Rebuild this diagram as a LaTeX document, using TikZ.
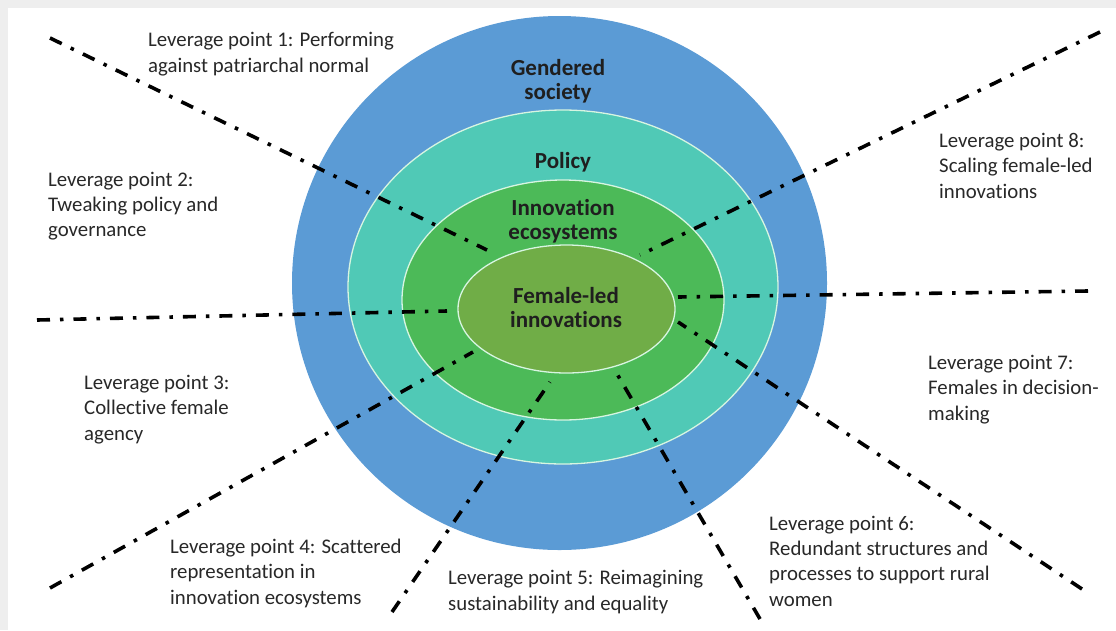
\documentclass[tikz,border=0pt]{standalone}
\usepackage{fontspec}
\setmainfont{Carlito}[Ligatures=NoCommon]
\usetikzlibrary{shapes.geometric}
\definecolor{framegray}{RGB}{238,238,238}
\definecolor{societyblue}{RGB}{91,155,213}
\definecolor{policyteal}{RGB}{80,201,182}
\definecolor{ecogreen}{RGB}{76,186,88}
\definecolor{femgreen}{RGB}{112,173,71}
\definecolor{ringline}{RGB}{215,245,225}
\definecolor{labeltext}{RGB}{40,40,40}
\begin{document}
\begin{tikzpicture}[x=1pt,y=-1pt,
  layer/.style={ellipse,inner sep=0pt,outer sep=0pt},
  ringedge/.style={draw=ringline,line width=1.3pt},
  % multi-line nodes: the base anchor sits on the last line's baseline
  title/.style={anchor=base,align=center,inner sep=0pt,text=black!88,
    font=\fontsize{23}{24.5}\selectfont\bfseries},
  lever/.style={anchor=base west,align=left,inner sep=0pt,text=labeltext,
    font=\fontsize{20.8}{25.3}\selectfont},
  leverline/.style={draw=black,line width=3.6pt,
    dash pattern=on 13pt off 10pt on 3.5pt off 10pt}]
\useasboundingbox (0,0) rectangle (1116,630);
% page frame
\fill[framegray] (0,0) rectangle (1116,630);
\fill[white] (8,8) rectangle (1116,630);

% nested layers
\node[layer,fill=societyblue,minimum width=535pt,minimum height=534pt] (society) at (559.5,283) {};
\node[layer,ringedge,fill=policyteal,minimum width=430pt,minimum height=354pt] (policy) at (563,287) {};
\node[layer,ringedge,fill=ecogreen,minimum width=322pt,minimum height=240pt] (eco) at (563,300) {};
\node[layer,ringedge,fill=femgreen,minimum width=217pt,minimum height=128pt] (fem) at (566.5,309) {};

% leverage line end points
\coordinate (a1) at (50,38);    \coordinate (b1) at (487,250);
\coordinate (a2) at (37,320);   \coordinate (b2) at (447,311);
\coordinate (a3) at (50,588);   \coordinate (b3) at (473,352);
\coordinate (a4) at (392,612);  \coordinate (b4) at (550,382);
\coordinate (a5) at (760,619);  \coordinate (b5) at (613,367);
\coordinate (a6) at (1082,589); \coordinate (b6) at (678,322);
\coordinate (a7) at (1088,291); \coordinate (b7) at (678,297);
\coordinate (a8) at (1100,32);  \coordinate (b8) at (640,255);

\foreach \i in {1,...,8} {\draw[leverline] (a\i) -- (b\i);}

% layer titles
\node[title] (tsociety) at (558,99.5) {Gendered\\society};
\node[title] (tpolicy) at (563,168) {Policy};
\node[title] (teco) at (563,239.5) {Innovation\\ecosystems};
\node[title] (tfem) at (566,327.5) {Female-led\\innovations};

% leverage point labels
\node[lever] (lp1) at (148,72) {Leverage point 1: Performing\\against patriarchal normal};
\node[lever] (lp2) at (48,236.6) {Leverage point 2:\\Tweaking policy and\\governance};
\node[lever] (lp3) at (84,440) {Leverage point 3:\\Collective female\\agency};
\node[lever] (lp4) at (170,604) {Leverage point 4: Scattered\\representation in\\innovation ecosystems};
\node[lever] (lp5) at (448,610) {Leverage point 5: Reimagining\\sustainability and equality};
\node[lever] (lp6) at (769,606) {Leverage point 6:\\Redundant structures and\\processes to support rural\\women};
\node[lever] (lp7) at (928,420) {Leverage point 7:\\Females in decision-\\making};
\node[lever] (lp8) at (939,198) {Leverage point 8:\\Scaling female-led\\innovations};
\end{tikzpicture}
\end{document}
